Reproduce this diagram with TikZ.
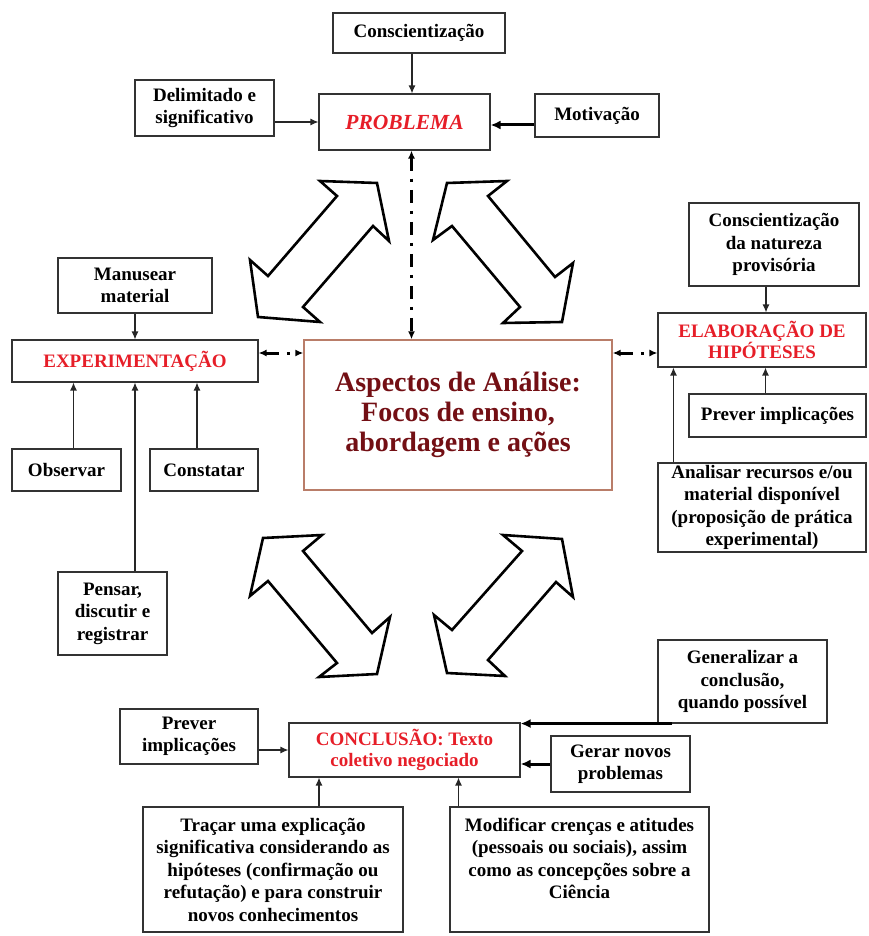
\documentclass[tikz,border=0pt]{standalone}
\usepackage{fontspec}
\setmainfont{Liberation Serif}
\usetikzlibrary{arrows.meta}

\definecolor{labred}{RGB}{230,30,40}
\definecolor{aspred}{RGB}{115,15,20}
\definecolor{aspline}{RGB}{185,125,105}

\begin{document}
\begin{tikzpicture}[
    x=1pt, y=-1pt,
    >={Latex[length=8pt,width=7pt]},
    box/.style={draw=black!80, line width=1.1pt, align=center, inner sep=0pt,
      font=\fontsize{19}{22.5}\selectfont\bfseries},
    redbox/.style={box, text=labred, font=\fontsize{19}{21.5}\selectfont\bfseries},
    link/.style={->, line width=1.2pt, draw=black!85},
    thicklink/.style={-{Latex[length=10pt,width=9pt]}, line width=3pt},
    dashdot/.style={<->, line width=3pt, dash pattern=on 13pt off 8pt on 3pt off 8pt},
    bigarrow/.style={line width=2.6pt, line join=miter, fill=white}
  ]
  \useasboundingbox (0,0) rectangle (868,936);

  % problema
  \node[box, minimum width=172, minimum height=40] (consc) at (419,33) {Conscientização};
  \node[box, minimum width=171, minimum height=56, text=labred,
    font=\fontsize{21.5}{24}\selectfont\bfseries\itshape] (prob) at (404.5,122) {PROBLEMA};
  \node[box, minimum width=139, minimum height=56] (delim) at (204.5,108) {Delimitado e\\ significativo};
  \node[box, minimum width=124, minimum height=43] (motiv) at (597,115.5) {Motivação};

  % centro
  \node[draw=aspline, line width=1.3pt, align=center, inner sep=0pt, text=aspred,
    minimum width=308, minimum height=150, font=\fontsize{28}{30}\selectfont\bfseries]
    (aspect) at (458,415) {Aspectos de Análise:\\ Focos de ensino,\\ abordagem e ações};

  % experimentacao
  \node[box, minimum width=154, minimum height=55] (manus) at (135,285.5) {Manusear\\ material};
  \node[redbox, minimum width=246, minimum height=42] (exp) at (135,361) {EXPERIMENTAÇÃO};
  \node[box, minimum width=109, minimum height=42] (obs) at (66.5,470) {Observar};
  \node[box, minimum width=108, minimum height=42] (const) at (204,470) {Constatar};
  \node[box, minimum width=109, minimum height=83] (pens) at (112.5,613.5) {Pensar,\\ discutir e\\ registrar};

  % hipoteses
  \node[box, minimum width=170, minimum height=83] (consc2) at (774,244.5) {Conscientização\\ da natureza\\ provisória};
  \node[redbox, minimum width=208, minimum height=54] (elab) at (762,340) {ELABORAÇÃO DE\\ HIPÓTESES};
  \node[box, minimum width=177, minimum height=43] (prevH) at (777.5,415.5) {Prever implicações};
  \node[box, minimum width=208, minimum height=89] (anal) at (762,507.5)
    {Analisar recursos e/ou\\ material disponível\\ (proposição de prática\\ experimental)};

  % conclusao
  \node[box, minimum width=138, minimum height=55] (prevC) at (189,736.5) {Prever\\ implicações};
  \node[redbox, minimum width=231, minimum height=54] (concl) at (404.5,750) {CONCLUSÃO: Texto\\ coletivo negociado};
  \node[box, minimum width=169, minimum height=83] (gener) at (742.5,681.5) {Generalizar a\\ conclusão,\\ quando possível};
  \node[box, minimum width=139, minimum height=56] (gerar) at (620.5,764) {Gerar novos\\ problemas};
  \node[box, minimum width=260, minimum height=125] (tracar) at (273,869.5)
    {Traçar uma explicação\\ significativa considerando as\\ hipóteses (confirmação ou\\ refutação) e para construir\\ novos conhecimentos};
  \node[box, minimum width=259, minimum height=125, text depth=22.5pt] (modif) at (579.5,869.5)
    {Modificar crenças e atitudes\\ (pessoais ou sociais), assim\\ como as concepções sobre a\\ Ciência};

  \draw[link] ([xshift=-7pt]consc.south) -- ([xshift=-7pt]consc.south |- prob.north);
  \draw[link] (delim.east |- prob.west) -- (prob.west);
  \draw[thicklink] ([yshift=-3pt]prob.east -| motiv.west) -- ([yshift=-3pt]prob.east);
  \draw[dashdot] ([xshift=7pt]prob.south) -- ([xshift=7pt]prob.south |- aspect.north);

  \draw[link] (manus) -- (exp);
  \draw[link] ([xshift=7pt]obs.north) -- ([xshift=7pt]obs.north |- exp.south);
  \draw[link] ([xshift=-7pt]const.north) -- ([xshift=-7pt]const.north |- exp.south);
  \draw[link] (pens.north -| exp.south) -- (exp.south);
  \draw[dashdot] ([yshift=8pt]exp.east) -- ([yshift=8pt]exp.east -| aspect.west);

  \draw[link] ([xshift=-8pt]consc2.south) -- ([xshift=-8pt]consc2.south |- elab.north);
  \draw[link] ([xshift=-12pt]prevH.north) -- ([xshift=-12pt]prevH.north |- elab.south);
  \draw[link] ([xshift=16pt]anal.north west) -- ([xshift=16pt]anal.north west |- elab.south);
  \draw[dashdot] ([yshift=-13pt]elab.west -| aspect.east) -- ([yshift=-13pt]elab.west);

  \draw[link] (prevC.east |- concl.west) -- (concl.west);
  \draw[thicklink] (gerar.west) -- (gerar.west -| concl.east);
  \draw[thicklink] ([xshift=15pt]gener.south west) -- (concl.north east |- gener.south west);
  \draw[link] ([xshift=46pt]tracar.north) -- ([xshift=46pt]tracar.north |- concl.south);
  \draw[link] ([xshift=-121pt]modif.north) -- ([xshift=-121pt]modif.north |- concl.south);

  % setas duplas
  \draw[bigarrow] (320,181) -- (377,183) -- (389,241) -- (373,226) -- (303,307)
    -- (320,322) -- (258,317) -- (250,260) -- (268,276) -- (337,196) -- cycle;
  \draw[bigarrow] (507,181) -- (447,183) -- (433,240) -- (452,226) -- (520,307)
    -- (503,323) -- (562,322) -- (573,263) -- (555,277) -- (488,196) -- cycle;
  \draw[bigarrow] (322,535) -- (263,538) -- (250,596) -- (268,581) -- (337,663)
    -- (319,677) -- (377,674) -- (390,617) -- (372,633) -- (303,551) -- cycle;
  \draw[bigarrow] (503,535) -- (562,539) -- (573,597) -- (556,582) -- (488,660)
    -- (505,676) -- (447,673) -- (434,615) -- (452,630) -- (522,551) -- cycle;
\end{tikzpicture}
\end{document}
